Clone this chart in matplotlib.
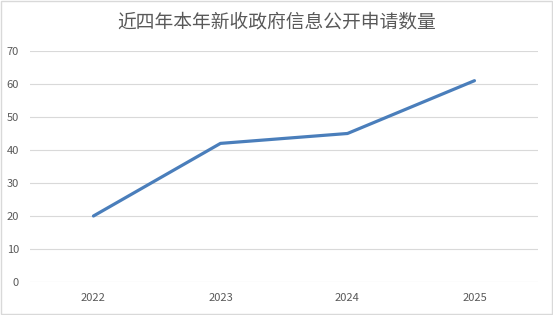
import matplotlib.pyplot as plt
from matplotlib.patches import Rectangle

plt.rcParams['font.family'] = ['Noto Sans CJK SC', 'DejaVu Sans']

years = ['2022', '2023', '2024', '2025']
counts = [20, 42, 45, 61]
title = '近四年本年新收政府信息公开申请数量'

fig = plt.figure(figsize=(5.53, 3.15), dpi=100)
ax = fig.add_axes([0.0542, 0.1048, 0.9186, 0.7333])

x = range(len(years))
ax.plot(x, counts, color='#4a7ebb', linewidth=2.3, solid_capstyle='round')

ax.set_xlim(-0.5, len(years) - 0.5)
ax.set_ylim(0, 70)
ax.set_yticks(range(0, 71, 10))
ax.set_xticks(list(x))
ax.set_xticklabels(years)
ax.grid(axis='y', color='#d9d9d9', linewidth=0.8)
ax.set_axisbelow(True)
for s in ax.spines.values():
    s.set_visible(False)
ax.tick_params(length=0, labelsize=8, colors='#595959', pad=8)
ax.tick_params(axis='x', pad=8)

fig.text(0.5, 0.93, title, ha='center', va='center', fontsize=13.5, color='#595959')
fig.patches.append(Rectangle((0.002, 0.003), 0.996, 0.994, transform=fig.transFigure,
                             fill=False, edgecolor='#d9d9d9', linewidth=1))

fig.savefig('out.png', dpi=100)
